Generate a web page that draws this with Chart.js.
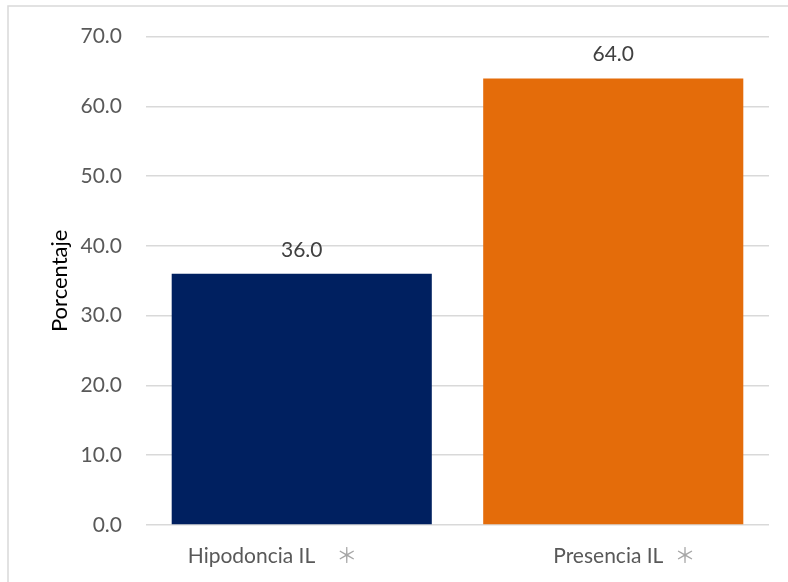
<!DOCTYPE html>
<html>
<head>
<meta charset="utf-8">
<script src="https://cdn.jsdelivr.net/npm/chart.js@4/dist/chart.umd.min.js"></script>
<style>
  html, body { margin: 0; padding: 0; background: #ffffff; }
  canvas { display: block; }
</style>
</head>
<body>
<canvas id="c" width="788" height="582"></canvas>
<script>
// Categories and percentages
const categories = ["Hipodoncia IL", "Presencia IL"];
const porcentajes = [36.0, 64.0];
const barColors = ["#002060", "#E46C0A"];
const yTicks = [0, 10, 20, 30, 40, 50, 60, 70];
const significance = ["\uFF0A", "\uFF0A"];

const FONT = "Lato, 'Open Sans', sans-serif";

// Light frame around the chart (top and left edges)
const framePlugin = {
  id: 'frame',
  beforeDraw(chart) {
    const ctx = chart.ctx;
    ctx.save();
    ctx.strokeStyle = '#d9d9d9';
    ctx.lineWidth = 1.5;
    ctx.strokeRect(8, 6, 900, 700);
    ctx.restore();
  }
};

// Value labels above each bar
const valueLabels = {
  id: 'valueLabels',
  afterDatasetsDraw(chart) {
    const ctx = chart.ctx;
    const meta = chart.getDatasetMeta(0);
    ctx.save();
    ctx.font = '21px ' + FONT;
    ctx.fillStyle = '#404040';
    ctx.textAlign = 'center';
    ctx.textBaseline = 'alphabetic';
    meta.data.forEach((bar, i) => {
      const v = chart.data.datasets[0].data[i];
      ctx.fillText(v.toFixed(1), bar.x, bar.y - 17);
    });
    ctx.restore();
  }
};

// Category names with significance marks under the axis
const categoryLabels = {
  id: 'categoryLabels',
  afterDraw(chart, args, opts) {
    const ctx = chart.ctx;
    const xs = chart.scales.x;
    ctx.save();
    ctx.textBaseline = 'alphabetic';
    ctx.textAlign = 'left';
    chart.data.labels.forEach((lab, i) => {
      const cx = xs.getPixelForValue(i);
      const x0 = cx + opts.shift[i];
      ctx.font = '21px ' + FONT;
      ctx.fillStyle = '#595959';
      ctx.fillText(lab, x0, opts.baseline);
      const w = ctx.measureText(lab).width;
      ctx.font = "21px 'Noto Sans CJK JP', sans-serif";
      ctx.fillStyle = '#a6a6a6';
      ctx.fillText(significance[i], x0 + w + opts.gap[i], opts.baseline);
    });
    ctx.restore();
  }
};

new Chart(document.getElementById('c'), {
  type: 'bar',
  data: {
    labels: categories,
    datasets: [{
      data: porcentajes,
      backgroundColor: barColors,
      borderWidth: 0,
      barPercentage: 0.835,
      categoryPercentage: 1.0
    }]
  },
  options: {
    responsive: false,
    animation: false,
    devicePixelRatio: 1,
    layout: { padding: { top: 36, right: 19, bottom: 0, left: 0 } },
    plugins: {
      legend: { display: false },
      tooltip: { enabled: false },
      categoryLabels: { shift: [-114, -60], gap: [21, 11], baseline: 563 }
    },
    scales: {
      x: {
        grid: { display: false },
        border: { display: false },
        ticks: { display: false },
        afterFit(scale) { scale.height = 57; }
      },
      y: {
        min: 0,
        max: 70,
        afterBuildTicks(scale) { scale.ticks = yTicks.map(v => ({ value: v })); },
        grid: { color: '#d9d9d9', lineWidth: 1.5, drawTicks: false },
        border: { display: false },
        ticks: {
          padding: 24,
          color: '#595959',
          font: { family: FONT, size: 21 },
          callback: v => Number(v).toFixed(1)
        },
        title: {
          display: true,
          text: 'Porcentaje',
          color: '#000000',
          font: { family: FONT, size: 22 },
          padding: { top: 47, bottom: 0 }
        },
        afterFit(scale) { scale.width = 146; }
      }
    }
  },
  plugins: [framePlugin, valueLabels, categoryLabels]
});
</script>
</body>
</html>
